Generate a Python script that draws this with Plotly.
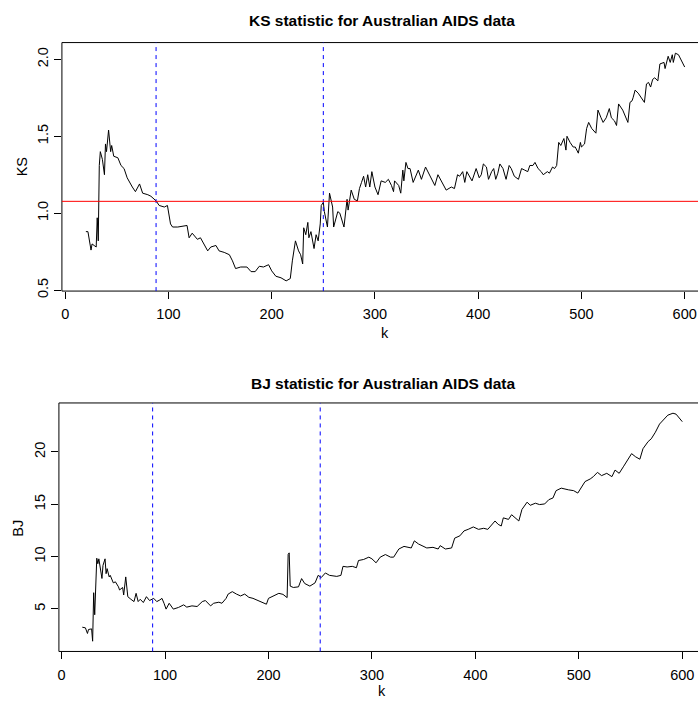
import plotly.graph_objects as go

# ---- data ----
ks_k = [20, 22, 25, 26, 28, 30, 31, 32, 33, 34, 36, 38, 39, 40, 42, 44, 45, 47, 51, 54, 57, 59, 60, 65, 68, 72, 75, 80, 83, 88,
        91, 96, 99, 102, 104, 109, 118, 120, 123, 128, 131, 138, 141, 146, 149, 154, 159, 162, 165, 170, 176, 180, 184, 188,
        192, 197, 200, 204, 209, 214, 218, 220, 223, 226, 228, 230, 231, 233, 235, 236, 238, 241, 243, 245, 247, 248, 250,
        251, 252, 254, 256, 259, 260, 264, 266, 270, 273, 274, 277, 280, 283, 285, 287, 289, 291, 293, 295, 297, 300, 303,
        306, 310, 313, 316, 318, 319, 323, 325, 327, 328, 330, 332, 334, 337, 342, 345, 349, 353, 358, 361, 364, 369, 374,
        377, 380, 382, 385, 387, 389, 392, 394, 398, 401, 403, 405, 408, 410, 413, 415, 417, 419, 421, 424, 427, 430, 432,
        435, 439, 442, 445, 448, 450, 453, 455, 458, 461, 463, 467, 469, 472, 474, 476, 478, 480, 483, 485, 486, 489, 492,
        494, 497, 499, 500, 503, 505, 507, 510, 514, 516, 519, 521, 524, 527, 529, 532, 534, 536, 540, 543, 545, 547, 549,
        550, 552, 555, 558, 561, 563, 565, 567, 569, 571, 574, 576, 580, 581, 584, 586, 588, 589, 591, 594, 600]
ks_vals = [0.88, 0.88, 0.76, 0.80, 0.79, 0.78, 0.97, 0.82, 1.31, 1.40, 1.35, 1.25, 1.45, 1.40, 1.54, 1.40, 1.44, 1.37, 1.36,
           1.31, 1.29, 1.25, 1.23, 1.17, 1.14, 1.19, 1.13, 1.12, 1.11, 1.08,
           1.05, 1.04, 1.05, 0.93, 0.91, 0.91, 0.92, 0.84, 0.87, 0.83, 0.84, 0.755, 0.78, 0.79, 0.755, 0.745, 0.73, 0.69, 0.64,
           0.65, 0.65, 0.62, 0.62, 0.655,
           0.65, 0.665, 0.625, 0.59, 0.58, 0.56, 0.575, 0.69, 0.82, 0.755, 0.73, 0.67, 0.905, 0.86, 0.94, 0.84, 0.88, 0.77,
           0.86, 0.82, 0.93, 1.05, 1.07,
           1.01, 0.97, 0.91, 1.13, 1.04, 0.91, 1.01, 1.00, 0.91, 1.09, 1.02, 1.15, 1.09, 1.08, 1.16, 1.20, 1.24, 1.17, 1.25,
           1.17, 1.27, 1.17, 1.12,
           1.21, 1.20, 1.22, 1.18, 1.14, 1.21, 1.18, 1.13, 1.28, 1.21, 1.33, 1.29, 1.29, 1.20, 1.28, 1.22, 1.30, 1.25, 1.18,
           1.25, 1.21, 1.15, 1.17,
           1.16, 1.25, 1.24, 1.27, 1.20, 1.27, 1.23, 1.21, 1.29, 1.23, 1.25, 1.32, 1.30, 1.22, 1.27, 1.29, 1.22, 1.26, 1.32,
           1.29, 1.22, 1.31, 1.29,
           1.24, 1.22, 1.29, 1.28, 1.27, 1.31, 1.31, 1.33, 1.29, 1.27, 1.25, 1.27, 1.26, 1.30, 1.29, 1.31, 1.46, 1.44, 1.485,
           1.41, 1.50, 1.46, 1.43,
           1.43, 1.39, 1.46, 1.43, 1.45, 1.55, 1.59, 1.55, 1.52, 1.67, 1.62, 1.59, 1.62, 1.68, 1.62, 1.60, 1.57, 1.71, 1.67,
           1.62, 1.59, 1.72, 1.73,
           1.75, 1.80, 1.78, 1.75, 1.72, 1.84, 1.85, 1.82, 1.87, 1.88, 1.86, 1.97, 1.98, 1.94, 2.02, 1.98, 2.03, 1.98, 2.04,
           2.03, 1.95]

bj_k = [20, 23, 25, 26, 29, 30, 31, 32, 34, 35, 36, 38, 39, 40, 42, 43, 44, 46, 47, 50, 52, 55, 56, 59, 60, 62, 64, 67, 70,
        72, 74, 76, 79, 82, 85, 89, 92, 95, 97, 99, 101, 104, 108, 113, 118, 121, 126, 131, 136, 139, 144, 147, 152, 155,
        159, 161, 165, 169, 173, 177, 181, 185, 192, 198, 200, 203, 206, 210, 214, 218, 219, 220, 221, 224, 229, 232, 235,
        240, 245, 248, 251, 255, 259, 266, 270, 272, 276, 281, 285, 287, 292, 297, 300, 304, 308, 313, 318, 321, 326, 331,
        338, 341, 345, 353, 359, 364, 366, 371, 377, 380, 385, 389, 393, 398, 403, 408, 412, 416, 419, 422, 425, 427, 432,
        435, 438, 442, 445, 450, 453, 458, 462, 467, 471, 475, 478, 483, 490, 495, 499, 502, 506, 511, 514, 518, 522, 527,
        532, 535, 539, 543, 546, 551, 555, 559, 562, 567, 570, 574, 578, 582, 586, 591, 594, 600]
bj_vals = [3.24, 3.18, 2.64, 3.02, 3.08, 1.9, 6.54, 4.43, 9.84, 9.31, 9.78, 8.68, 7.9, 9.15, 9.78, 8.36, 8.84, 8.05, 8.2,
           7.48, 7.58, 7.1, 6.8, 7.04, 6.32, 8.05, 6.16, 5.91, 5.69,
           6.48, 5.69, 5.91, 5.6, 6.16, 5.79, 6.0, 5.69, 5.85, 6.0, 5.53, 4.97, 5.53, 4.97, 5.13, 5.38, 5.16, 5.28, 5.22, 5.69,
           5.79, 5.28, 5.53, 5.63, 5.53,
           6.0, 6.41, 6.64, 6.41, 6.23, 6.41, 6.1, 6.0, 5.69, 5.44, 6.0, 6.16, 6.32, 6.48, 6.38, 6.07, 10.2, 10.35, 7.17, 7.04,
           7.1, 7.89, 7.42,
           7.17, 7.48, 8.2, 7.99, 8.43, 8.2, 8.1, 8.2, 9.06, 9.0, 9.06, 8.93, 9.62, 9.72, 9.94, 9.78, 9.4, 9.94, 10.19, 9.94,
           9.94, 10.72, 10.97,
           10.82, 11.5, 11.2, 10.82, 10.88, 10.72, 11.04, 10.72, 10.82, 11.76, 11.98, 12.45, 12.6, 12.83, 12.6, 12.7, 12.6,
           13.08, 13.4, 13.08, 12.92, 13.7, 13.55,
           14.0, 13.7, 13.4, 14.5, 15.2, 14.9, 15.1, 14.97, 15.03, 15.44, 15.6, 16.3, 16.54, 16.38, 16.3, 16.07, 16.6, 17.17,
           17.42, 17.64, 18.05, 17.74, 17.96,
           17.64, 18.27, 17.96, 18.58, 19.06, 19.84, 19.53, 19.31, 20.31, 21.0, 21.26, 21.89, 22.67, 23.14, 23.52, 23.71,
           23.62, 22.9]

x_ticks = [0, 100, 200, 300, 400, 500, 600]
ks_ticks = [0.5, 1.0, 1.5, 2.0]
ks_tick_labels = ["0.5", "1.0", "1.5", "2.0"]
bj_ticks = [5, 10, 15, 20]
vlines_k = [88, 250]
ks_crit = 1.077

titles = ["KS statistic for Australian AIDS data", "BJ statistic for Australian AIDS data"]

# ---- layout geometry (pixels) ----
W, H = 698, 704
FONT = "Liberation Sans, Arial, Helvetica, sans-serif"

def fx(px):
    return px / W

def fy(py):
    return 1 - py / H

top_box = dict(l=61, r=698, t=43, b=294)
bot_box = dict(l=58, r=698, t=407, b=658)

fig = go.Figure()

fig.add_trace(go.Scatter(x=ks_k, y=ks_vals, mode="lines", line=dict(color="black", width=1),
                         xaxis="x", yaxis="y", showlegend=False, hoverinfo="skip"))
fig.add_trace(go.Scatter(x=bj_k, y=bj_vals, mode="lines", line=dict(color="black", width=1),
                         xaxis="x2", yaxis="y2", showlegend=False, hoverinfo="skip"))

tickfont = dict(family=FONT, size=14.5, color="black")

common_x = dict(tickmode="array", tickvals=x_ticks, ticktext=[str(v) for v in x_ticks],
                ticks="outside", ticklen=7, tickcolor="black", tickwidth=1, ticklabelstandoff=3,
                showgrid=False, zeroline=False, showline=False, tickfont=tickfont)
common_y = dict(ticks="outside", ticklen=7, tickcolor="black", tickwidth=1, tickangle=-90,
                showgrid=False, zeroline=False, showline=False, tickfont=tickfont)

fig.update_layout(
    width=W, height=H, margin=dict(l=0, r=0, t=0, b=0),
    paper_bgcolor="white", plot_bgcolor="white",
    xaxis=dict(domain=[fx(top_box["l"]), 1], range=[-3.2, 612.9], anchor="y", **common_x),
    yaxis=dict(domain=[fy(top_box["b"]), fy(top_box["t"])], range=[0.4936, 2.109], anchor="x",
               tickmode="array", tickvals=ks_ticks, ticktext=ks_tick_labels, **common_y),
    xaxis2=dict(domain=[fx(bot_box["l"]), 1], range=[-2.6, 615.2], anchor="y2", **common_x),
    yaxis2=dict(domain=[fy(bot_box["b"]), fy(bot_box["t"])], range=[0.92, 24.69], anchor="x2",
                tickmode="array", tickvals=bj_ticks, ticktext=[str(v) for v in bj_ticks], **common_y),
)

shapes = []
for xr, yr in (("x", "y"), ("x2", "y2")):
    dom_x = xr + " domain"
    dom_y = yr + " domain"
    # box: top, left, bottom (right edge lies outside the window)
    shapes.append(dict(type="line", xref=dom_x, yref=dom_y, x0=0, x1=1, y0=1, y1=1, line=dict(color="black", width=1)))
    shapes.append(dict(type="line", xref=dom_x, yref=dom_y, x0=0, x1=0, y0=0, y1=1, line=dict(color="black", width=1)))
    shapes.append(dict(type="line", xref=dom_x, yref=dom_y, x0=0, x1=1, y0=0, y1=0, line=dict(color="black", width=1)))
    for v in vlines_k:
        shapes.append(dict(type="line", xref=xr, yref=dom_y, x0=v, x1=v, y0=0, y1=1,
                           line=dict(color="blue", width=1, dash="4px,4px")))
shapes.append(dict(type="line", xref="x domain", yref="y", x0=0, x1=1, y0=ks_crit, y1=ks_crit,
                   line=dict(color="red", width=1)))
fig.update_layout(shapes=shapes)

ann = []
title_font = dict(family=FONT, size=15.5, color="black", weight="bold")
label_font = dict(family=FONT, size=14.5, color="black")
ann.append(dict(text="<b>" + titles[0] + "</b>", x=fx(382), y=fy(21), xref="paper", yref="paper",
                showarrow=False, xanchor="center", yanchor="middle", font=title_font))
ann.append(dict(text="<b>" + titles[1] + "</b>", x=fx(383), y=fy(387), xref="paper", yref="paper",
                showarrow=False, xanchor="center", yanchor="middle", font=title_font))
ann.append(dict(text="k", x=fx(385), y=fy(336), xref="paper", yref="paper",
                showarrow=False, xanchor="center", yanchor="middle", font=label_font))
ann.append(dict(text="k", x=fx(382), y=fy(688), xref="paper", yref="paper",
                showarrow=False, xanchor="center", yanchor="top", font=label_font))
ann.append(dict(text="KS", x=fx(21), y=fy(168), xref="paper", yref="paper", textangle=-90,
                showarrow=False, xanchor="center", yanchor="middle", font=label_font))
ann.append(dict(text="BJ", x=fx(17), y=fy(533), xref="paper", yref="paper", textangle=-90,
                showarrow=False, xanchor="center", yanchor="middle", font=label_font))
fig.update_layout(annotations=ann)

fig.write_html("out.html")
